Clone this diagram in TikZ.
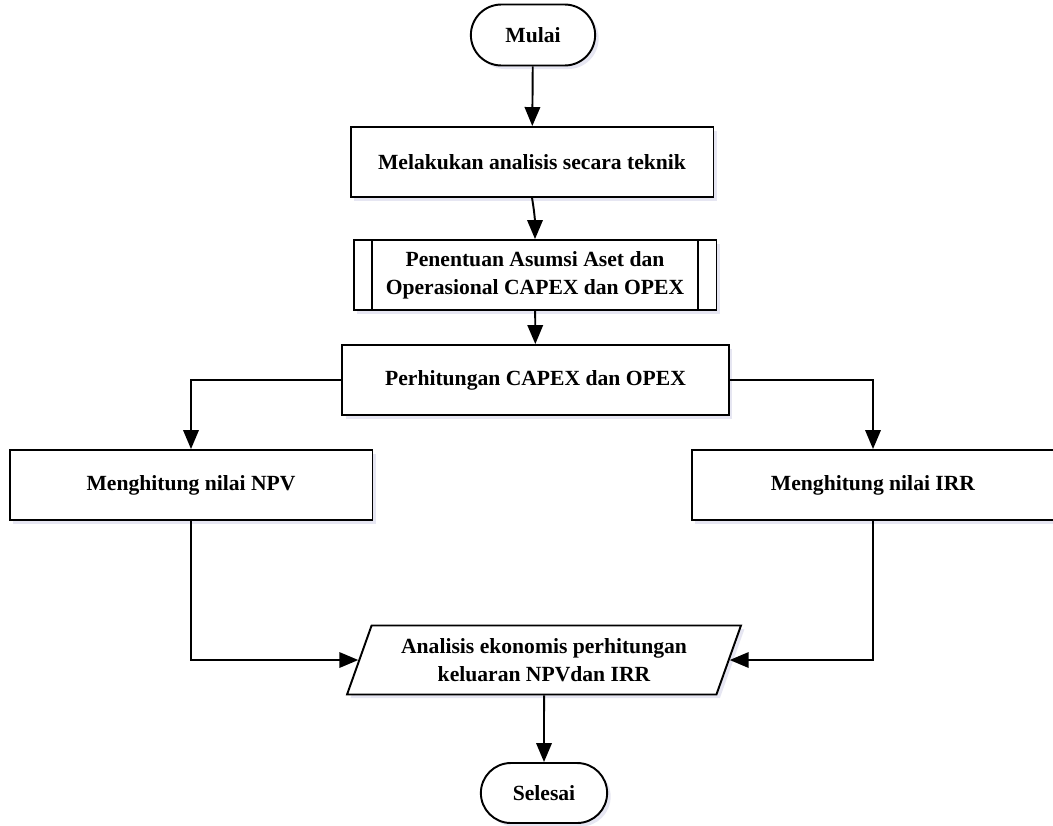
\documentclass[tikz,border=0pt]{standalone}
\usepackage{fontspec}
\setmainfont{Liberation Serif}
\usetikzlibrary{arrows.meta, positioning, shapes.geometric, shapes.misc, shadows}
\tikzset{
  base/.style={draw, line width=1.1pt, fill=white, font=\bfseries\fontsize{12.3}{16}\selectfont, align=center,
    drop shadow={shadow xshift=2pt, shadow yshift=-2pt, fill=blue!30!gray, opacity=0.15}},
  term/.style={base, rounded rectangle, minimum width=2.72cm, minimum height=1.22cm},
  box/.style={base, rectangle, minimum width=7.26cm, minimum height=1.4cm},
  io/.style={base, trapezium, trapezium left angle=66, trapezium right angle=114, trapezium stretches body,
    minimum width=7.88cm, minimum height=1.38cm},
  arr/.style={-{Triangle[length=3.8mm, width=3.1mm]}, line width=1.1pt},
}
\begin{document}
\begin{tikzpicture}[x=0.02cm, y=-0.02cm]
  \useasboundingbox (0,0) rectangle (1053,825);
  \node[term] (mulai) at (533,35) {Mulai};
  \node[box] (teknik) at (532,162) {Melakukan analisis secara teknik};
  \node[box] (asumsi) at (535,275) {Penentuan Asumsi Aset dan\\Operasional CAPEX dan OPEX};
  \draw[line width=1.1pt] ([xshift=0.38cm]asumsi.north west) -- ([xshift=0.38cm]asumsi.south west);
  \draw[line width=1.1pt] ([xshift=-0.38cm]asumsi.north east) -- ([xshift=-0.38cm]asumsi.south east);
  \node[box, minimum width=7.74cm] (hitung) at (535.5,380) {Perhitungan CAPEX dan OPEX};
  \node[box] (npv) at (191,485) {Menghitung nilai NPV};
  \node[box] (irr) at (873,485) {Menghitung nilai IRR};
  \node[io] (ekonomi) at (544,660) {Analisis ekonomis perhitungan\\keluaran NPVdan IRR};
  \node[term, minimum width=2.76cm, minimum height=1.2cm] (selesai) at (544,793) {Selesai};

  \draw[arr] (mulai) -- (teknik);
  \draw[arr] (teknik.south) to[out=-80, in=90] (asumsi.north);
  \draw[arr] (asumsi) -- (hitung);
  \draw[arr] (hitung.west) -| (npv.north);
  \draw[arr] (hitung.east) -| (irr.north);
  \draw[arr] (npv.south) |- (ekonomi.west);
  \draw[arr] (irr.south) |- (ekonomi.east);
  \draw[arr] (ekonomi) -- (selesai);
\end{tikzpicture}
\end{document}
